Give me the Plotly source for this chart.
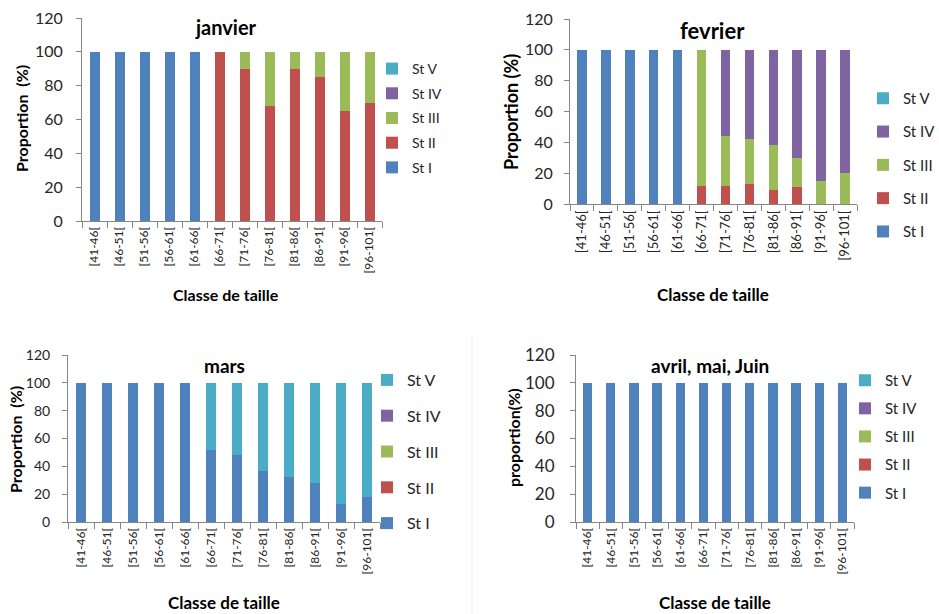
import plotly.graph_objects as go

# Size classes (cm) shared by all four panels
classes = ["[41-46[", "[46-51[", "[51-56[", "[56-61[", "[61-66[", "[66-71[",
           "[71-76[", "[76-81[", "[81-86[", "[86-91[", "[91-96[", "[96-101["]

stages = ["St I", "St II", "St III", "St IV", "St V"]
stage_colors = ["#4F81BD", "#C0504D", "#9BBB59", "#8064A2", "#4BACC6"]

# Maturity stage proportions (%) per size class
jan_st1 = [100, 100, 100, 100, 100, 0, 0, 0, 0, 0, 0, 0]
jan_st2 = [0, 0, 0, 0, 0, 100, 90, 68, 90, 85, 65, 70]
jan_st3 = [0, 0, 0, 0, 0, 0, 10, 32, 10, 15, 35, 30]
jan_st4 = [0] * 12
jan_st5 = [0] * 12

feb_st1 = [100, 100, 100, 100, 100, 0, 0, 0, 0, 0, 0, 0]
feb_st2 = [0, 0, 0, 0, 0, 12, 12, 13, 9, 11, 0, 0]
feb_st3 = [0, 0, 0, 0, 0, 88, 32, 29, 29, 19, 15, 20]
feb_st4 = [0, 0, 0, 0, 0, 0, 56, 58, 62, 70, 85, 80]
feb_st5 = [0] * 12

mar_st1 = [100, 100, 100, 100, 100, 52, 48, 37, 32, 28, 13, 18]
mar_st2 = [0] * 12
mar_st3 = [0] * 12
mar_st4 = [0] * 12
mar_st5 = [0, 0, 0, 0, 0, 48, 52, 63, 68, 72, 87, 82]

amj_st1 = [100] * 12
amj_st2 = [0] * 12
amj_st3 = [0] * 12
amj_st4 = [0] * 12
amj_st5 = [0] * 12

W, H = 939, 614
FONT = "Lato"
TXT = "#262626"


def px(v):
    return v / W


def py(v):
    return 1 - v / H


panels = [
    dict(name="janvier", ytitle="Proportion  (%)",
         data=[jan_st1, jan_st2, jan_st3, jan_st4, jan_st5],
         xdom=(82, 382), ydom=(221, 18),
         title_xy=(226, 27), title_size=20,
         yt_xy=(22, 119), yt_size=16,
         xt_xy=(226, 294), xt_size=16, xt_bottom=False,
         legend_xy=(372, 53), legend_size=14, legend_gap=3.5,
         ytick_size=16, xtick_size=12, ystand=10),
    dict(name="fevrier", ytitle="Proportion (%)",
         data=[feb_st1, feb_st2, feb_st3, feb_st4, feb_st5],
         xdom=(570, 857), ydom=(204, 19),
         title_xy=(712, 30), title_size=22,
         yt_xy=(511, 112), yt_size=18,
         xt_xy=(713, 294), xt_size=17, xt_bottom=False,
         legend_xy=(863, 82), legend_size=15, legend_gap=10.8,
         ytick_size=16, xtick_size=13, ystand=8),
    dict(name="mars", ytitle="Proportion  (%)",
         data=[mar_st1, mar_st2, mar_st3, mar_st4, mar_st5],
         xdom=(68, 380), ydom=(522, 355),
         title_xy=(224, 365), title_size=19,
         yt_xy=(15, 440), yt_size=16,
         xt_xy=(224, 614), xt_size=17, xt_bottom=True,
         legend_xy=(367, 363), legend_size=16, legend_gap=12,
         ytick_size=14, xtick_size=12, ystand=9),
    dict(name="avril, mai, Juin", ytitle="proportion(%)",
         data=[amj_st1, amj_st2, amj_st3, amj_st4, amj_st5],
         xdom=(576, 854), ydom=(522, 355),
         title_xy=(710, 365), title_size=19,
         yt_xy=(513, 438), yt_size=16,
         xt_xy=(715, 614), xt_size=17, xt_bottom=True,
         legend_xy=(845, 364), legend_size=15, legend_gap=5.6,
         ytick_size=17, xtick_size=12, ystand=12),
]

fig = go.Figure()
annotations = []
layout_extra = {}

for i, p in enumerate(panels, start=1):
    sfx = "" if i == 1 else str(i)
    xa, ya = "x" + sfx, "y" + sfx
    leg = "legend" + sfx
    for s, (stage, color) in enumerate(zip(stages, stage_colors)):
        fig.add_trace(go.Bar(
            x=classes, y=p["data"][s], name=stage,
            marker=dict(color=color, line=dict(width=0)),
            width=0.4, xaxis=xa, yaxis=ya, legend=leg,
            legendgroup=f"p{i}_{s}", legendrank=10 * (5 - s),
            showlegend=True,
        ))

    layout_extra["xaxis" + sfx] = dict(
        domain=[px(p["xdom"][0]), px(p["xdom"][1])], anchor=ya,
        type="category", tickson="boundaries", ticks="outside", ticklen=6,
        tickcolor="#868686", showline=True, linecolor="#868686", linewidth=1,
        showgrid=False, tickangle=-90, automargin=False,
        tickfont=dict(family=FONT, size=p["xtick_size"], color=TXT),
        range=[-0.5, 11.5],
    )
    layout_extra["yaxis" + sfx] = dict(
        domain=[py(p["ydom"][0]), py(p["ydom"][1])], anchor=xa,
        range=[0, 120], dtick=20, ticks="outside", ticklen=5,
        tickcolor="#868686", showline=True, linecolor="#868686", linewidth=1,
        showgrid=False, zeroline=False, automargin=False,
        ticklabelstandoff=p["ystand"],
        tickfont=dict(family=FONT, size=p["ytick_size"], color=TXT),
    )
    layout_extra[leg] = dict(
        x=px(p["legend_xy"][0]), y=py(p["legend_xy"][1]),
        xanchor="left", yanchor="top", traceorder="grouped",
        tracegroupgap=p["legend_gap"], bgcolor="rgba(0,0,0,0)",
        font=dict(family=FONT, size=p["legend_size"], color=TXT),
        itemwidth=30,
    )

    annotations.append(dict(
        text=f"<b>{p['name']}</b>", x=px(p["title_xy"][0]), y=py(p["title_xy"][1]),
        xref="paper", yref="paper", showarrow=False,
        xanchor="center", yanchor="middle",
        font=dict(family=FONT, size=p["title_size"], color="#000000"),
    ))
    annotations.append(dict(
        text=f"<b>{p['ytitle']}</b>", x=px(p["yt_xy"][0]), y=py(p["yt_xy"][1]),
        xref="paper", yref="paper", showarrow=False, textangle=-90,
        xanchor="center", yanchor="middle",
        font=dict(family=FONT, size=p["yt_size"], color="#000000"),
    ))
    annotations.append(dict(
        text="<b>Classe de taille</b>", x=px(p["xt_xy"][0]), y=py(p["xt_xy"][1]),
        xref="paper", yref="paper", showarrow=False, borderpad=0,
        xanchor="center", yanchor="bottom" if p["xt_bottom"] else "middle",
        font=dict(family=FONT, size=p["xt_size"], color="#000000"),
    ))

fig.update_layout(
    width=W, height=H,
    margin=dict(l=0, r=0, t=0, b=0, autoexpand=False),
    paper_bgcolor="white", plot_bgcolor="white",
    barmode="stack", bargap=0.6,
    annotations=annotations,
    shapes=[dict(type="line", xref="paper", yref="paper",
                 x0=px(472), x1=px(472), y0=py(333), y1=0,
                 line=dict(color="#eeeeee", width=1))],
    **layout_extra,
)

fig.write_html("out.html")
